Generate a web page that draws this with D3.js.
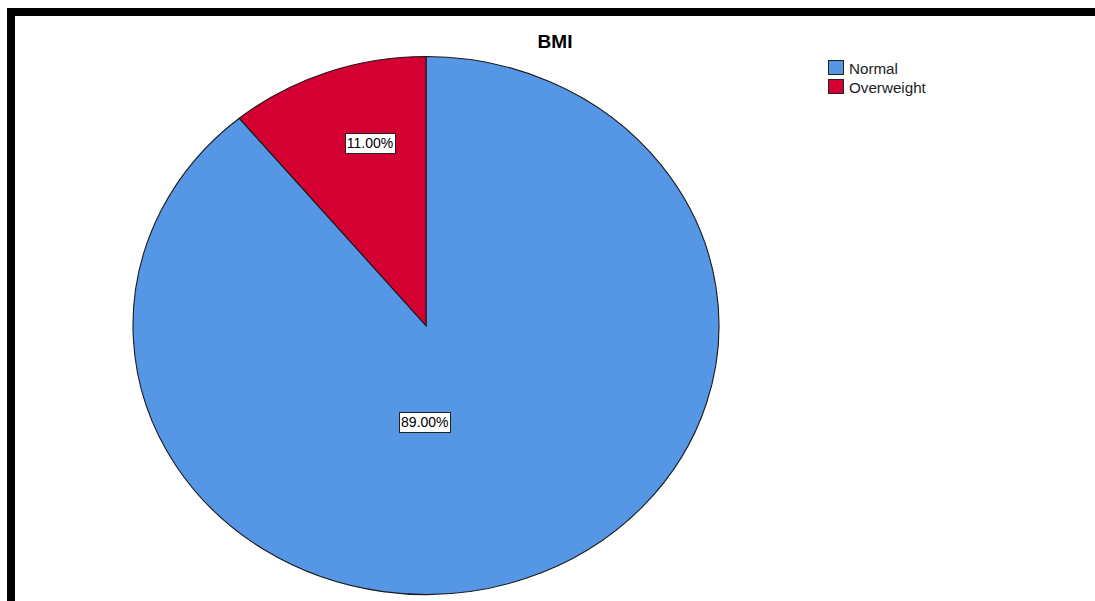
<!DOCTYPE html>
<html><head><meta charset="utf-8">
<script src="https://cdn.jsdelivr.net/npm/d3@7"></script>
<style>body{margin:0;background:#fff}svg{display:block}text{font-family:"Liberation Sans",Arial,sans-serif}</style>
</head><body>
<script>
const title = "BMI";
const categories = ["Normal", "Overweight"];
const values = [89.0, 11.0];
const colors = ["#5596E5", "#D50032"];

const W = 1095, H = 601;
const cx = 426, cy = 325.5, rx = 293, ry = 269;
// label positions in normalized ellipse coordinates (layout only)
const labelOffsets = [[-0.004, 0.36], [-0.191, -0.677]];

const svg = d3.select("body").append("svg").attr("width", W).attr("height", H);

// frame
svg.append("rect").attr("x", 11).attr("y", 12).attr("width", W + 40).attr("height", H + 40)
  .attr("fill", "none").attr("stroke", "#000").attr("stroke-width", 8);

// title
svg.append("text").attr("x", 555).attr("y", 48).attr("text-anchor", "middle")
  .attr("font-size", 19).attr("font-weight", "bold").text(title);

const pie = d3.pie().sort(null).value(d => d.v)
  .startAngle(0).endAngle(2 * Math.PI);
const data = categories.map((c, i) => ({c, v: values[i], col: colors[i]}));
const arcs = pie(data);
const R = 100;
const arc = d3.arc().innerRadius(0).outerRadius(R);

const g = svg.append("g").attr("transform", `translate(${cx},${cy}) scale(${rx / R},${ry / R})`);
g.selectAll("path").data(arcs).join("path")
  .attr("d", arc).attr("fill", d => d.data.col)
  .attr("stroke", "#1a1a1a").attr("stroke-width", 1.1)
  .attr("vector-effect", "non-scaling-stroke");

// labels
const lg = svg.append("g");
arcs.forEach((a, i) => {
  const lx = cx + labelOffsets[i][0] * rx, ly = cy + labelOffsets[i][1] * ry;
  const t = lg.append("text").attr("x", lx).attr("y", ly + 5).attr("text-anchor", "middle")
    .attr("font-size", 14).text(d3.format(".2f")(a.data.v) + "%");
  const bb = t.node().getBBox();
  lg.insert("rect", "text").attr("x", Math.round(bb.x - 2) + 0.5).attr("y", Math.round(ly - 10) + 0.5)
    .attr("width", Math.round(bb.width + 4)).attr("height", 20)
    .attr("fill", "#fff").attr("stroke", "#222").attr("stroke-width", 1);
});

// legend
const leg = svg.append("g").attr("transform", "translate(828,60)");
data.forEach((d, i) => {
  const y = i * 19;
  leg.append("rect").attr("x", 0.5).attr("y", y + 0.5).attr("width", 15).attr("height", 14)
    .attr("fill", d.col).attr("stroke", "#222").attr("stroke-width", 1);
  leg.append("text").attr("x", 21).attr("y", y + 13.5).attr("font-size", 15.2).attr("fill", "#222").text(d.c);
});
</script>
</body></html>
